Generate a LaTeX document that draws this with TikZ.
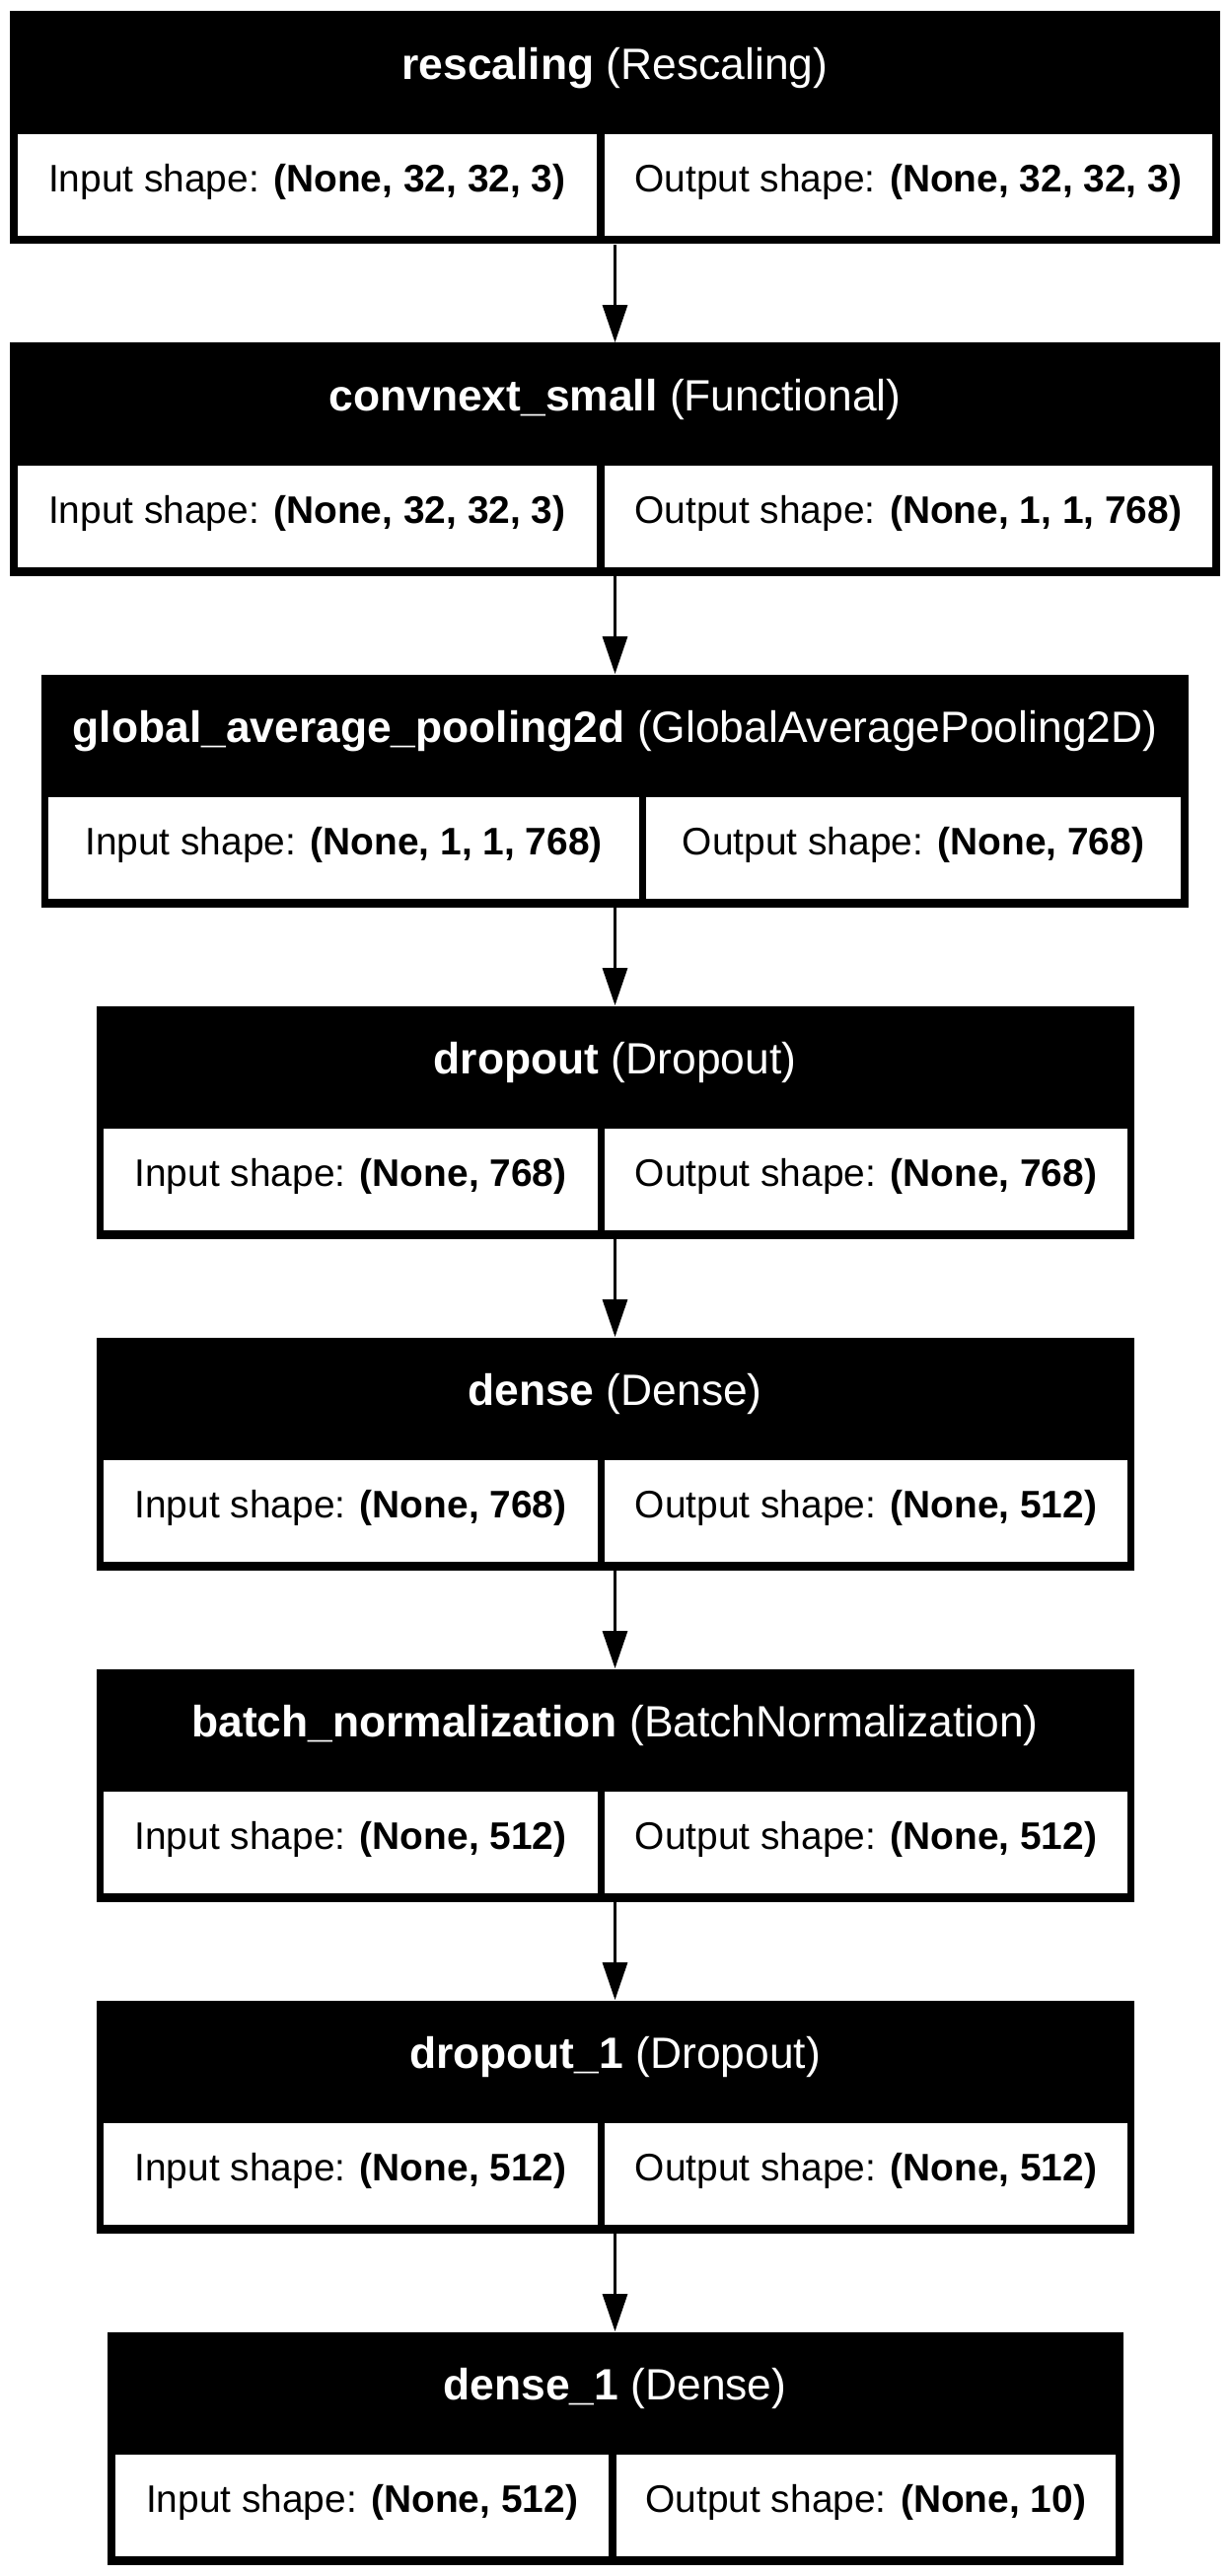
\documentclass[tikz,border=0pt]{standalone}
\usepackage{fontspec}
\setmainfont{Liberation Sans}
\usetikzlibrary{arrows.meta}

\tikzset{
  layerbox/.style={rectangle,fill=black,inner sep=0pt,minimum height=118pt},
  headtxt/.style={text=white,inner sep=0pt,text height=0.716em,text depth=0pt,
    font=\fontsize{22.2pt}{26pt}\selectfont},
  cell/.style={rectangle,fill=white,inner sep=0pt,minimum height=51.5pt,
    text height=0.716em,text depth=0pt,font=\fontsize{19.44pt}{23pt}\selectfont},
  flow/.style={-{Triangle[length=19pt,width=12.5pt]},line width=1.6pt}
}

\begin{document}
\begin{tikzpicture}[x=0.5pt,y=-0.5pt]
\useasboundingbox (0,0) rectangle (1247,2611);

% layer boxes
\node[layerbox,minimum width=613.75pt] (resc) at (623.5,129.5) {};
\node[layerbox,minimum width=613.75pt] (conv) at (623.5,465.5) {};
\node[layerbox,minimum width=581.5pt] (gap) at (623.5,801.5) {};
\node[layerbox,minimum width=526pt] (drop) at (623.5,1137.5) {};
\node[layerbox,minimum width=526pt] (dense) at (623.5,1473.5) {};
\node[layerbox,minimum width=526pt] (bnorm) at (623.5,1809.5) {};
\node[layerbox,minimum width=526pt] (dropb) at (623.5,2145.5) {};
\node[layerbox,minimum width=515pt] (denseb) at (623.5,2481.5) {};

% headers
\node[headtxt] (resc-name) at (623.5,73.75) {\textbf{rescaling} (Rescaling)};
\node[headtxt] (conv-name) at (623.5,409.75) {\textbf{convnext\_small} (Functional)};
\node[headtxt] (gap-name) at (623.5,745.75) {\textbf{global\_average\_pooling2d} (GlobalAveragePooling2D)};
\node[headtxt] (drop-name) at (623.5,1081.75) {\textbf{dropout} (Dropout)};
\node[headtxt] (dense-name) at (623.5,1417.75) {\textbf{dense} (Dense)};
\node[headtxt] (bnorm-name) at (623.5,1753.75) {\textbf{batch\_normalization} (BatchNormalization)};
\node[headtxt] (dropb-name) at (623.5,2089.75) {\textbf{dropout\_1} (Dropout)};
\node[headtxt] (denseb-name) at (623.5,2425.75) {\textbf{dense\_1} (Dense)};

% shape cells
\node[cell,minimum width=293.75pt] (resc-in) at (311.25,187.5) {Input shape: \textbf{(None, 32, 32, 3)}};
\node[cell,minimum width=308.25pt] (resc-out) at (920.75,187.5) {Output shape: \textbf{(None, 32, 32, 3)}};
\node[cell,minimum width=293.75pt] (conv-in) at (311.25,523.5) {Input shape: \textbf{(None, 32, 32, 3)}};
\node[cell,minimum width=308.25pt] (conv-out) at (920.75,523.5) {Output shape: \textbf{(None, 1, 1, 768)}};
\node[cell,minimum width=299.5pt] (gap-in) at (348.5,859.5) {Input shape: \textbf{(None, 1, 1, 768)}};
\node[cell,minimum width=271pt] (gap-out) at (926,859.5) {Output shape: \textbf{(None, 768)}};
\node[cell,minimum width=250.5pt] (drop-in) at (355.5,1195.5) {Input shape: \textbf{(None, 768)}};
\node[cell,minimum width=265pt] (drop-out) at (878,1195.5) {Output shape: \textbf{(None, 768)}};
\node[cell,minimum width=250.5pt] (dense-in) at (355.5,1531.5) {Input shape: \textbf{(None, 768)}};
\node[cell,minimum width=265pt] (dense-out) at (878,1531.5) {Output shape: \textbf{(None, 512)}};
\node[cell,minimum width=250.5pt] (bnorm-in) at (355.5,1867.5) {Input shape: \textbf{(None, 512)}};
\node[cell,minimum width=265pt] (bnorm-out) at (878,1867.5) {Output shape: \textbf{(None, 512)}};
\node[cell,minimum width=250.5pt] (dropb-in) at (355.5,2203.5) {Input shape: \textbf{(None, 512)}};
\node[cell,minimum width=265pt] (dropb-out) at (878,2203.5) {Output shape: \textbf{(None, 512)}};
\node[cell,minimum width=250pt] (denseb-in) at (367,2539.5) {Input shape: \textbf{(None, 512)}};
\node[cell,minimum width=253.25pt] (denseb-out) at (877.75,2539.5) {Output shape: \textbf{(None, 10)}};

% arrows
\draw[flow] (resc.south) -- (conv.north);
\draw[flow] (conv.south) -- (gap.north);
\draw[flow] (gap.south) -- (drop.north);
\draw[flow] (drop.south) -- (dense.north);
\draw[flow] (dense.south) -- (bnorm.north);
\draw[flow] (bnorm.south) -- (dropb.north);
\draw[flow] (dropb.south) -- (denseb.north);
\end{tikzpicture}
\end{document}
